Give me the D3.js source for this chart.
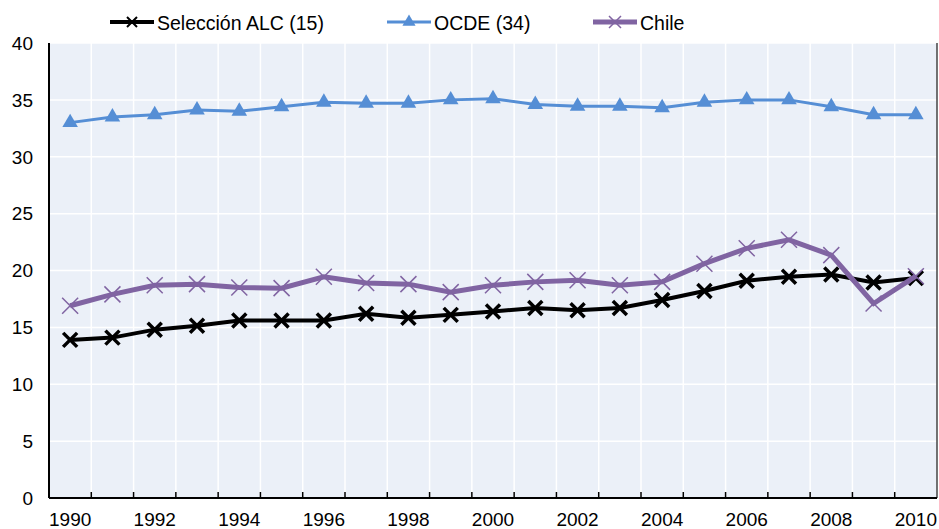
<!DOCTYPE html>
<html>
<head>
<meta charset="utf-8">
<script src="https://cdn.jsdelivr.net/npm/d3@7"></script>
<style>
  body { margin: 0; background: #fff; }
  svg { font-family: "Liberation Sans", Arial, sans-serif; }
</style>
</head>
<body>
<div id="chart"></div>
<script>
const years = ["1990","1991","1992","1993","1994","1995","1996","1997","1998","1999","2000",
               "2001","2002","2003","2004","2005","2006","2007","2008","2009","2010"];
const alc   = [13.9,14.1,14.8,15.15,15.6,15.6,15.6,16.2,15.85,16.1,16.4,16.7,16.5,16.7,17.4,18.2,19.1,19.45,19.65,18.95,19.35];
const ocde  = [33.0,33.5,33.7,34.1,34.0,34.4,34.8,34.7,34.7,35.0,35.1,34.6,34.45,34.45,34.3,34.8,35.0,35.0,34.4,33.7,33.7];
const chile = [16.9,17.9,18.7,18.8,18.5,18.45,19.45,18.9,18.8,18.1,18.7,19.0,19.15,18.7,19.0,20.6,21.95,22.7,21.35,17.1,19.5];
const yTicks = [0,5,10,15,20,25,30,35,40];
const xLabels = ["1990","1992","1994","1996","1998","2000","2002","2004","2006","2008","2010"];

const W = 939, H = 529;
const margin = { top: 43, right: 2, bottom: 31, left: 49 };
const width = W - margin.left - margin.right;
const height = H - margin.top - margin.bottom;

const svg = d3.select("#chart").append("svg")
  .attr("width", W).attr("height", H);

const g = svg.append("g")
  .attr("transform", "translate(" + margin.left + "," + margin.top + ")");

const x = d3.scaleBand().domain(years).range([0, width]);
const y = d3.scaleLinear().domain([0, 40]).range([height, 0]);
const cx = d => x(d) + x.bandwidth() / 2;

// plot background
g.append("rect").attr("width", width).attr("height", height).attr("fill", "#ebf0f8");

// vertical gridlines between categories
g.selectAll(".vgrid").data(years.slice(1)).enter().append("line")
  .attr("x1", d => x(d)).attr("x2", d => x(d))
  .attr("y1", 0).attr("y2", height)
  .attr("stroke", "#fff").attr("stroke-width", 1.5);

// horizontal gridlines
g.selectAll(".hgrid").data(yTicks.slice(1)).enter().append("line")
  .attr("x1", 0).attr("x2", width)
  .attr("y1", d => y(d)).attr("y2", d => y(d))
  .attr("stroke", "#fff").attr("stroke-width", 1.5);

// right border
g.append("line").attr("x1", width).attr("x2", width).attr("y1", 0).attr("y2", height)
  .attr("stroke", "#444").attr("stroke-width", 1.5);

// y axis labels
g.selectAll(".ylab").data(yTicks).enter().append("text")
  .attr("x", -16).attr("y", d => y(d)).attr("dy", "0.36em")
  .attr("text-anchor", "end").attr("font-size", 19).attr("fill", "#000")
  .text(d => d);

// x tick marks (inside, at category boundaries)
g.selectAll(".xtick").data(years.slice(1)).enter().append("line")
  .attr("x1", d => x(d)).attr("x2", d => x(d))
  .attr("y1", height).attr("y2", height - 6)
  .attr("stroke", "#000").attr("stroke-width", 1.5);

// x labels
g.selectAll(".xlab").data(xLabels).enter().append("text")
  .attr("x", d => cx(d)).attr("y", height + 28)
  .attr("text-anchor", "middle").attr("font-size", 19).attr("fill", "#000")
  .text(d => d);

// axes lines
g.append("line").attr("x1", 0).attr("x2", 0).attr("y1", 0).attr("y2", height)
  .attr("stroke", "#000").attr("stroke-width", 2);
g.append("line").attr("x1", 0).attr("x2", width).attr("y1", height).attr("y2", height)
  .attr("stroke", "#000").attr("stroke-width", 2);

const line = d3.line().x((d, i) => cx(years[i])).y(d => y(d));

function crossPath(s) {
  return "M" + (-s) + "," + (-s) + "L" + s + "," + s + "M" + (-s) + "," + s + "L" + s + "," + (-s);
}
const tri = d3.symbol().type(d3.symbolTriangle).size(105);

// ALC
g.append("path").datum(alc).attr("d", line)
  .attr("fill", "none").attr("stroke", "#000").attr("stroke-width", 4);
g.selectAll(".alc").data(alc).enter().append("path")
  .attr("d", crossPath(7))
  .attr("transform", (d, i) => "translate(" + cx(years[i]) + "," + y(d) + ")")
  .attr("stroke", "#000").attr("stroke-width", 3.5).attr("fill", "none");

// OCDE
g.append("path").datum(ocde).attr("d", line)
  .attr("fill", "none").attr("stroke", "#558ed5").attr("stroke-width", 3);
g.selectAll(".ocde").data(ocde).enter().append("path")
  .attr("d", tri())
  .attr("transform", (d, i) => "translate(" + cx(years[i]) + "," + y(d) + ")")
  .attr("fill", "#558ed5");

// Chile
g.append("path").datum(chile).attr("d", line)
  .attr("fill", "none").attr("stroke", "#8064a2").attr("stroke-width", 5);
g.selectAll(".chile").data(chile).enter().append("path")
  .attr("d", crossPath(8))
  .attr("transform", (d, i) => "translate(" + cx(years[i]) + "," + y(d) + ")")
  .attr("stroke", "#8064a2").attr("stroke-width", 1.5).attr("fill", "none");

// legend
const legend = [
  { name: "Selección ALC (15)", x: 110, color: "#000", w: 4, mark: "x", ms: 5, mw: 2 },
  { name: "OCDE (34)", x: 387, color: "#558ed5", w: 3, mark: "tri" },
  { name: "Chile", x: 593, color: "#8064a2", w: 5, mark: "x", ms: 6, mw: 1.5 }
];
const ly = 22;
legend.forEach(l => {
  svg.append("line").attr("x1", l.x).attr("x2", l.x + 44).attr("y1", ly).attr("y2", ly)
    .attr("stroke", l.color).attr("stroke-width", l.w);
  if (l.mark === "tri") {
    svg.append("path").attr("d", d3.symbol().type(d3.symbolTriangle).size(75)())
      .attr("transform", "translate(" + (l.x + 22) + "," + ly + ")").attr("fill", l.color);
  } else {
    svg.append("path").attr("d", crossPath(l.ms))
      .attr("transform", "translate(" + (l.x + 22) + "," + ly + ")")
      .attr("stroke", l.color).attr("stroke-width", l.mw);
  }
  svg.append("text").attr("x", l.x + 47).attr("y", ly + 1).attr("dy", "0.35em")
    .attr("font-size", 19.5).attr("fill", "#000").text(l.name);
});
</script>
</body>
</html>
